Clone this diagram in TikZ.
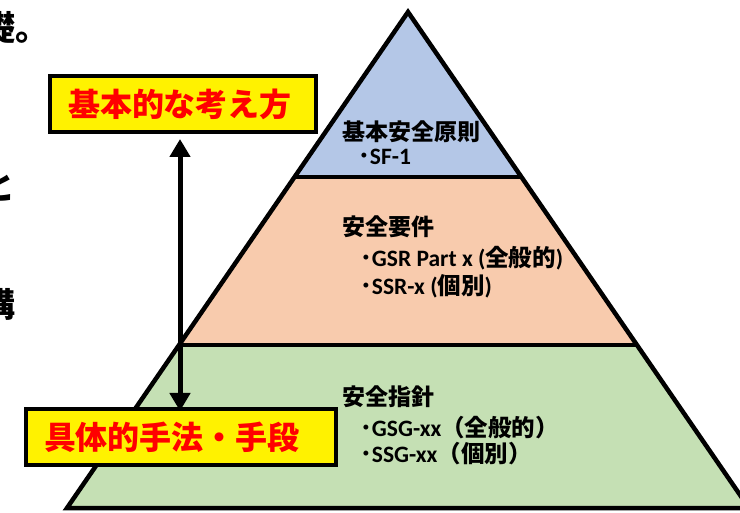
\documentclass[tikz,border=0pt]{standalone}
\usepackage{fontspec}
\setmainfont{Carlito}
\newfontfamily\jp{Noto Sans CJK JP}
\usetikzlibrary{arrows.meta}
\definecolor{tierblue}{HTML}{B4C7E7}
\definecolor{tierpeach}{HTML}{F8CBAD}
\definecolor{tiergreen}{HTML}{C5E0B4}
\tikzset{
  outline/.style={draw=black, line width=4.5pt, line join=miter},
  lbl/.style={anchor=base west, inner sep=0pt, font=\bfseries\fontsize{23.5}{27}\selectfont},
  hdr/.style={anchor=base west, inner sep=0pt, font=\jp\bfseries\fontsize{23}{27}\selectfont},
  frag/.style={anchor=base west, inner sep=0pt, font=\jp\bfseries\fontsize{34}{40}\selectfont},
  ybox/.style={draw=black, line width=4pt, fill=yellow, minimum height=56pt, inner xsep=18pt,
    inner ysep=0pt, align=left, text=red, font=\jp\bfseries\fontsize{32}{38}\selectfont},
  dblarrow/.style={line width=5pt, {Triangle[width=20pt,length=18pt]}-{Triangle[width=20pt,length=18pt]}},
}
\begin{document}
\begin{tikzpicture}[x=1pt,y=-1pt]
\clip (0,0) rectangle (740,513);
\fill[white] (0,0) rectangle (740,513);
% pyramid
\coordinate (apex) at (408,12);
\coordinate (l1) at (294.6,177);
\coordinate (r1) at (521.4,177);
\coordinate (l2) at (179,345);
\coordinate (r2) at (637,345);
\coordinate (bl) at (67,508);
\coordinate (br) at (749,508);
\fill[tierblue] (apex) -- (r1) -- (l1) -- cycle;
\fill[tierpeach] (l1) -- (r1) -- (r2) -- (l2) -- cycle;
\fill[tiergreen] (l2) -- (r2) -- (br) -- (bl) -- cycle;
\draw[outline] (apex) -- (br) -- (bl) -- cycle;
\draw[outline] (l1) -- (r1);
\draw[outline] (l2) -- (r2);
% tier labels
\node[hdr] (h1) at (342,141) {基本安全原則};
\node[lbl] (t1) at (358,165) {{\jp ･}SF-1};
\node[hdr] (h2) at (342,236) {安全要件};
\node[lbl] (t2) at (360,267) {{\jp ･}GSR Part x ({\jp 全般的})};
\node[lbl] (t3) at (360,295) {{\jp ･}SSR-x ({\jp 個別})};
\node[hdr] (h3) at (342,406) {安全指針};
\node[lbl] (t4) at (360,437) {{\jp ･}GSG-xx{\jp （全般的）}};
\node[lbl] (t5) at (360,463) {{\jp ･}SSG-xx{\jp （個別）}};
% left cut-off text
\node[frag] (f1) at (-19,41) {礎。};
\node[frag] (f2) at (-19,200) {と};
\node[frag] (f3) at (-19,318) {構};
% boxes
\node[ybox, text width=230pt, minimum width=266pt] (b1) at (183,104) {基本的な考え方};
\coordinate (ax) at (180,0);
\draw[dblarrow, shorten <=5pt, shorten >=-2pt] (b1.south -| ax) -- (ax |- 409,409);
\node[ybox, text width=274pt, minimum width=310pt] (b2) at (181,437) {具体的手法・手段};
\end{tikzpicture}
\end{document}
